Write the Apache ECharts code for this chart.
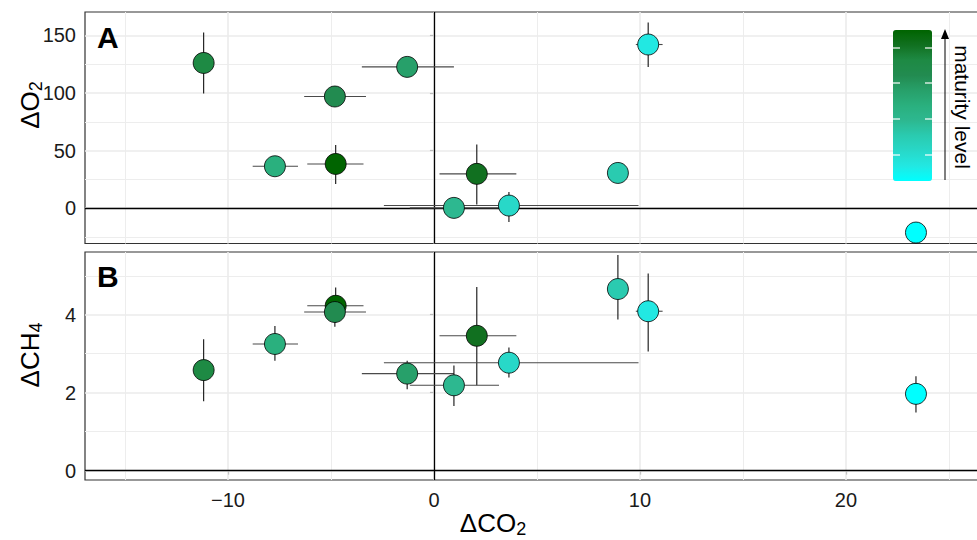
<!DOCTYPE html>
<html>
<head>
<meta charset="utf-8">
<script src="https://cdn.jsdelivr.net/npm/echarts@6/dist/echarts.min.js"></script>
<style>
  html, body { margin: 0; padding: 0; background: #fff; }
  #chart { width: 977px; height: 540px; }
</style>
</head>
<body>
<div id="chart"></div>
<script>
// samples in drawing order (later ones sit on top)
const co2      = [-11.18, -4.77, -1.30, -4.81, -7.72, 2.08, 0.97, 3.64, 8.93, 10.40, 23.40];
const co2Lo    = [null, -6.15, -3.50, -6.30, -8.80, 0.27, -1.17, -2.43, null, 9.80, null];
const co2Hi    = [null, -3.42, 0.97, -3.30, -6.60, 4.00, 3.16, 9.93, null, 11.10, null];
const o2       = [126, 38.4, 122.6, 96.9, 36.4, 29.8, 0.3, 2.3, 30.6, 142, -21.1];
const o2Lo     = [99.5, 21.1, null, null, null, 3.2, -8.5, -11.9, null, 122.5, null];
const o2Hi     = [152.4, 54.9, null, null, null, 55.2, 7, 14.1, null, 161, null];
const ch4      = [2.58, 4.23, 2.49, 4.07, 3.25, 3.46, 2.19, 2.77, 4.66, 4.09, 1.97];
const ch4Lo    = [1.78, 3.80, 2.09, 3.69, 2.82, 2.19, 1.66, 2.39, 3.88, 3.06, 1.49];
const ch4Hi    = [3.37, 4.70, 2.82, 4.45, 3.71, 4.71, 2.70, 3.16, 5.53, 5.06, 2.42];
const maturity = [0.8, 1.0, 0.6, 0.7, 0.5, 0.9, 0.4, 0.2, 0.3, 0.1, 0.0];

const xTicks   = [-10, 0, 10, 20];
const xMinor   = [-15, -5, 5, 15, 25];
const o2Ticks  = [0, 50, 100, 150];
const o2Minor  = [-25, 25, 75, 125];
const ch4Ticks = [0, 2, 4];
const ch4Minor = [1, 3, 5];

// low maturity -> high maturity
const maturityColors = ['#00ffff', '#22e8e2', '#28d8c8', '#2acbb0', '#2db890', '#2ab07e',
                        '#27a06a', '#228b50', '#1e8a44', '#117020', '#006400'];

const FONT = "'Liberation Sans', Arial, sans-serif";
const chart = echarts.init(document.getElementById('chart'), null, { renderer: 'svg' });

const miss = v => (v == null ? '-' : v);
const minus = v => String(v).replace('-', '\u2212');

function renderErr(params, api) {
  const x = api.value(0), y = api.value(1);
  const xl = api.value(2), xh = api.value(3), yl = api.value(4), yh = api.value(5);
  const kids = [];
  if (isFinite(xl) && isFinite(xh)) {
    const a = api.coord([xl, y]), b = api.coord([xh, y]);
    kids.push({ type: 'line', shape: { x1: a[0], y1: a[1], x2: b[0], y2: b[1] },
      style: { stroke: '#4a4a4a', lineWidth: 1.1 } });
  }
  if (isFinite(yl) && isFinite(yh)) {
    const a = api.coord([x, yl]), b = api.coord([x, yh]);
    kids.push({ type: 'line', shape: { x1: a[0], y1: a[1], x2: b[0], y2: b[1] },
      style: { stroke: '#111', lineWidth: 1.1 } });
  }
  return { type: 'group', children: kids };
}

function gridLines(xi) {
  const yMaj = xi === 0 ? o2Ticks : ch4Ticks;
  const yMin = xi === 0 ? o2Minor : ch4Minor;
  const major = { color: '#ebebeb', width: 1.6, type: 'solid' };
  const minor = { color: '#ededed', width: 1, type: 'solid' };
  const zero = { color: '#000', width: 1.3, type: 'solid' };
  const data = []
    .concat(xMinor.map(v => ({ xAxis: v, lineStyle: minor })))
    .concat(yMin.map(v => ({ yAxis: v, lineStyle: minor })))
    .concat(xTicks.map(v => ({ xAxis: v, lineStyle: major })))
    .concat(yMaj.map(v => ({ yAxis: v, lineStyle: major })))
    .concat([{ xAxis: 0, lineStyle: zero }, { yAxis: 0, lineStyle: zero }]);
  return {
    type: 'line', xAxisIndex: xi, yAxisIndex: xi, data: [], silent: true, z: 1,
    markLine: { z: 1, silent: true, symbol: 'none', label: { show: false }, animation: false, data: data }
  };
}

const nameRich = {
  m: { fontSize: 26, fontFamily: FONT, color: '#000', lineHeight: 30 },
  s: { fontSize: 18, fontFamily: FONT, color: '#000', lineHeight: 14, verticalAlign: 'bottom' }
};

function xAxisDef(gi, showLabels) {
  return {
    type: 'value', gridIndex: gi, min: -16.94, max: 26.46,
    axisLine: { show: false }, splitLine: { show: false },
    axisTick: { show: showLabels, customValues: xTicks, length: 4, lineStyle: { color: '#333', width: 1.1 } },
    axisLabel: { show: showLabels, customValues: xTicks, formatter: minus, margin: 10,
      fontSize: 20, fontFamily: FONT, color: '#1a1a1a' }
  };
}

function yAxisDef(gi, min, max, ticks) {
  return {
    type: 'value', gridIndex: gi, min: min, max: max,
    axisLine: { show: false }, splitLine: { show: false },
    axisTick: { show: true, customValues: ticks, length: 4, lineStyle: { color: '#333', width: 1.1 } },
    axisLabel: { customValues: ticks, margin: 9, fontSize: 20, fontFamily: FONT, color: '#1a1a1a' }
  };
}

function errData(yv, lo, hi) {
  return co2.map((x, i) => [x, yv[i], miss(co2Lo[i]), miss(co2Hi[i]), miss(lo[i]), miss(hi[i])]);
}

const legendTicks = [48, 83, 119, 155];

chart.setOption({
  animation: false,
  grid: [
    { left: 85, top: 12, width: 894, height: 231.5, show: true, outerBoundsMode: 'none',
      borderColor: '#333', borderWidth: 1.2, backgroundColor: 'transparent' },
    { left: 85, top: 252, width: 894, height: 228, show: true, outerBoundsMode: 'none',
      borderColor: '#333', borderWidth: 1.2, backgroundColor: 'transparent' }
  ],
  xAxis: [xAxisDef(0, false), xAxisDef(1, true)],
  yAxis: [
    yAxisDef(0, -30.6, 170.2, o2Ticks),
    yAxisDef(1, -0.24, 5.61, ch4Ticks)
  ],
  visualMap: {
    type: 'continuous', min: 0, max: 1, dimension: 2, seriesIndex: [4, 5],
    inRange: { color: maturityColors },
    calculable: false, hoverLink: false, text: null, showLabel: false,
    itemWidth: 39, itemHeight: 151, left: 893, top: 30, padding: 0
  },
  series: [
    gridLines(0),
    gridLines(1),
    { type: 'custom', xAxisIndex: 0, yAxisIndex: 0, renderItem: renderErr, encode: { x: 0, y: 1 },
      data: errData(o2, o2Lo, o2Hi), silent: true, z: 2 },
    { type: 'custom', xAxisIndex: 1, yAxisIndex: 1, renderItem: renderErr, encode: { x: 0, y: 1 },
      data: errData(ch4, ch4Lo, ch4Hi), silent: true, z: 2 },
    { type: 'scatter', xAxisIndex: 0, yAxisIndex: 0, symbolSize: 21, z: 10,
      itemStyle: { borderColor: '#000', borderWidth: 0.8, opacity: 1 },
      emphasis: { disabled: true },
      data: co2.map((x, i) => [x, o2[i], maturity[i]]) },
    { type: 'scatter', xAxisIndex: 1, yAxisIndex: 1, symbolSize: 21, z: 10,
      itemStyle: { borderColor: '#000', borderWidth: 0.8, opacity: 1 },
      emphasis: { disabled: true },
      data: co2.map((x, i) => [x, ch4[i], maturity[i]]) }
  ],
  graphic: [
    { type: 'text', left: 97, top: 22, z: 100, style: { text: 'A', font: "bold 30px " + FONT, fill: '#000' } },
    { type: 'text', left: 97, top: 261, z: 100, style: { text: 'B', font: "bold 30px " + FONT, fill: '#000' } },
    // axis titles
    { type: 'text', x: 493, y: 523, z: 100,
      style: { text: '{m|ΔCO}{s|2}', rich: nameRich, align: 'center', verticalAlign: 'middle' } },
    { type: 'text', x: 30, y: 105, rotation: Math.PI / 2, z: 100,
      style: { text: '{m|ΔO}{s|2}', rich: nameRich, align: 'center', verticalAlign: 'middle' } },
    { type: 'text', x: 30, y: 355, rotation: Math.PI / 2, z: 100,
      style: { text: '{m|ΔCH}{s|4}', rich: nameRich, align: 'center', verticalAlign: 'middle' } },
    // maturity colour bar decorations
    ...legendTicks.map(y => ({ type: 'line', shape: { x1: 893, y1: y, x2: 900, y2: y }, style: { stroke: '#fff', lineWidth: 1.2 }, z: 100 })),
    ...legendTicks.map(y => ({ type: 'line', shape: { x1: 925, y1: y, x2: 932, y2: y }, style: { stroke: '#fff', lineWidth: 1.2 }, z: 100 })),
    { type: 'line', shape: { x1: 945, y1: 180, x2: 945, y2: 38 }, style: { stroke: '#000', lineWidth: 1 }, z: 100 },
    { type: 'polygon', shape: { points: [[945, 29], [941, 39], [949, 39]] }, style: { fill: '#000' }, z: 100 },
    { type: 'text', x: 952, y: 107, rotation: -Math.PI / 2,
      style: { text: 'maturity level', font: "21px " + FONT, fill: '#000', align: 'center', verticalAlign: 'bottom' }, z: 100 }
  ]
});
</script>
</body>
</html>
